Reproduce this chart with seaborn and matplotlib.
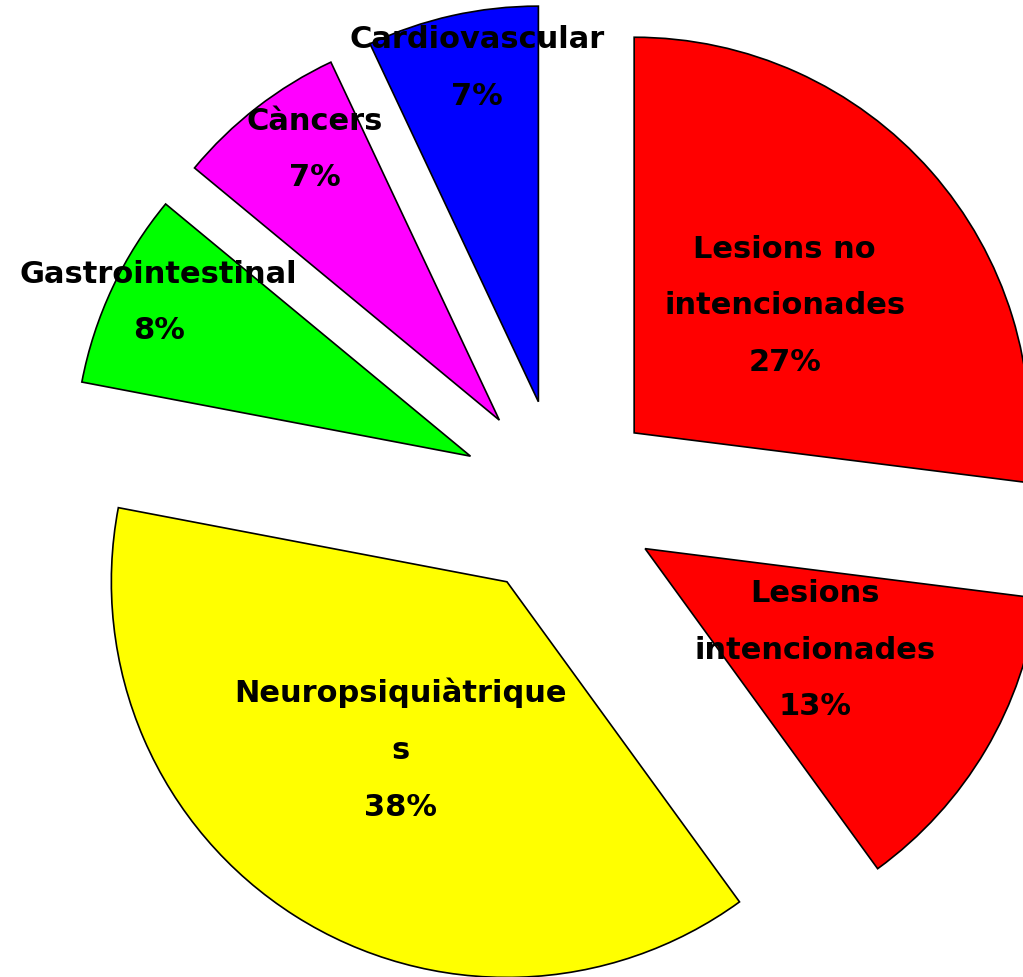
import numpy as np
import seaborn as sns
import matplotlib.pyplot as plt

labels = ["Lesions no\nintencionades", "Lesions\nintencionades", "Neuropsiquiàtrique\ns",
          "Gastrointestinal", "Càncers", "Cardiovascular"]
values = [27, 13, 38, 8, 7, 7]
colors = ["#FF0000", "#FF0000", "#FFFF00", "#00FF00", "#FF00FF", "#0000FF"]
label_dist = [0.5, 0.5, 0.5, 0.88, 0.83, 0.86]
label_rot = [-1, 0, 0, -1.2, -3.6, -2.2]  # small angular nudges, degrees

sns.set_style("white")
plt.rcParams["font.family"] = ["DejaVu Sans"]

fig = plt.figure(figsize=(10.23, 9.78), dpi=100)
ax = fig.add_axes([0, 0, 1, 1])

wedges, _ = ax.pie(values, colors=colors, startangle=90, counterclock=False,
                   explode=[0.25] * len(values), radius=1,
                   wedgeprops=dict(edgecolor="black", linewidth=1.2))

# labels inside slices
for w, lab, v, d, r in zip(wedges, labels, values, label_dist, label_rot):
    t = np.deg2rad((w.theta1 + w.theta2) / 2 + r)
    cx, cy = w.center
    ax.text(cx + d * np.cos(t), cy + d * np.sin(t), f"{lab}\n{v}%",
            ha="center", va="center", fontsize=22, fontweight="bold",
            linespacing=2.2, color="black")

ax.set_xlim(-1.415, 1.17)
ax.set_ylim(-1.21, 1.262)
ax.set_aspect("equal")
ax.axis("off")

plt.savefig("out.png", dpi=100)
